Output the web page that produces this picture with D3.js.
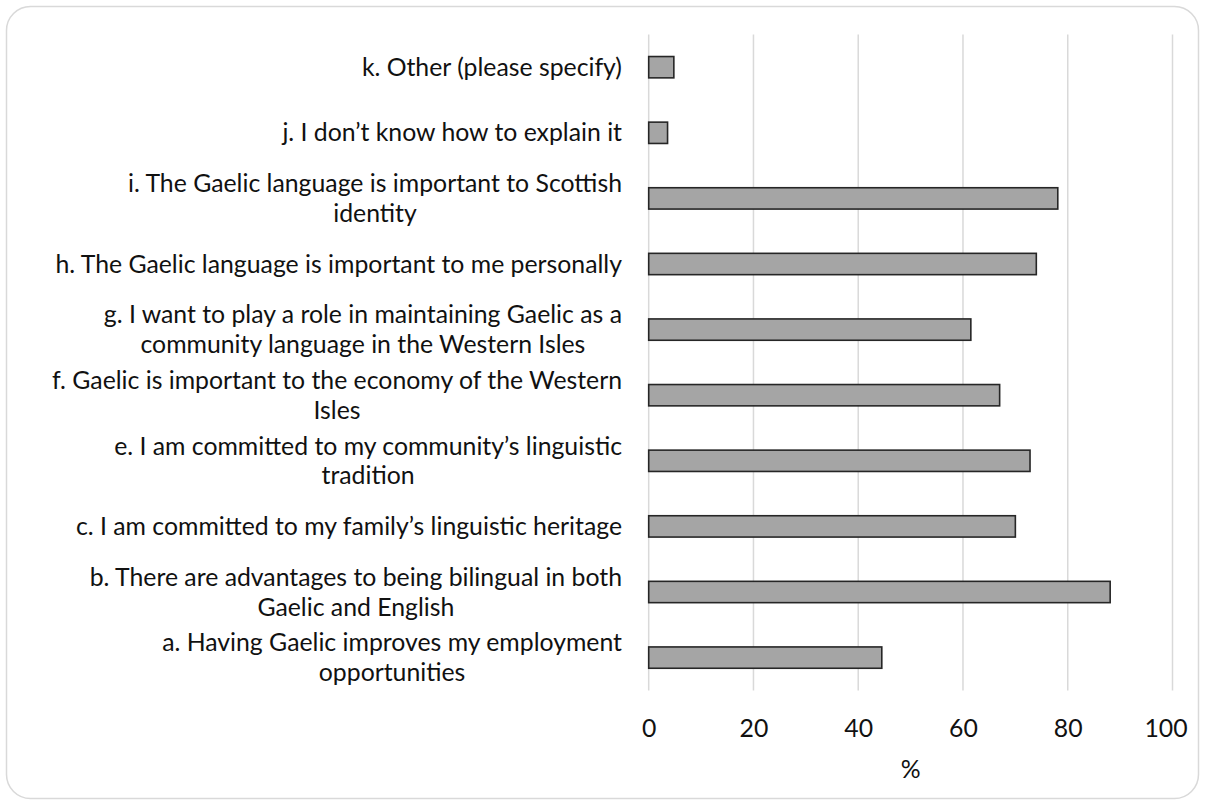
<!DOCTYPE html>
<html>
<head>
<meta charset="utf-8">
<script src="https://cdn.jsdelivr.net/npm/d3@7"></script>
<style>
  html, body { margin: 0; padding: 0; background: #fff; }
  svg { display: block; }
  text { font-family: Lato, "Open Sans", sans-serif; fill: #111; }
</style>
</head>
<body>
<svg id="chart" width="1205" height="805"></svg>
<script>
// Reasons for supporting Gaelic, % of respondents (top to bottom)
const categories = [
  "k. Other (please specify)",
  "j. I don\u2019t know how to explain it",
  "i. The Gaelic language is important to Scottish\nidentity",
  "h. The Gaelic language is important to me personally",
  "g. I want to play a role in maintaining Gaelic as a\ncommunity language in the Western Isles",
  "f. Gaelic is important to the economy of the Western\nIsles",
  "e. I am committed to my community\u2019s linguistic\ntradition",
  "c. I am committed to my family\u2019s linguistic heritage",
  "b. There are advantages to being bilingual in both\nGaelic and English",
  "a. Having Gaelic improves my employment\nopportunities"
];
const values = [4.8, 3.6, 78.1, 74.0, 61.5, 67.0, 72.8, 70.0, 88.1, 44.5];
const xTicks = [0, 20, 40, 60, 80, 100];
const xTitle = "%";

const svg = d3.select("#chart");
const FONT = 24.8;

// outer chart frame
svg.append("rect")
  .attr("x", 6.5).attr("y", 6.5)
  .attr("width", 1192).attr("height", 792)
  .attr("rx", 24).attr("ry", 24)
  .attr("fill", "#fff")
  .attr("stroke", "#d9d9d9")
  .attr("stroke-width", 1.5);

const x = d3.scaleLinear().domain([0, 100]).range([648.7, 1172.5]);
const y = d3.scaleBand()
  .domain(categories)
  .range([34.4, 690.4])
  .paddingInner(0.675)
  .paddingOuter(0.3375);

// vertical gridlines
svg.append("g")
  .selectAll("line")
  .data(xTicks)
  .join("line")
  .attr("x1", d => x(d)).attr("x2", d => x(d))
  .attr("y1", y.range()[0]).attr("y2", y.range()[1])
  .attr("stroke", "#d9d9d9")
  .attr("stroke-width", 1.5);

// bars
svg.append("g")
  .selectAll("rect")
  .data(values)
  .join("rect")
  .attr("x", x(0))
  .attr("y", (d, i) => y(categories[i]))
  .attr("width", d => x(d) - x(0))
  .attr("height", y.bandwidth())
  .attr("fill", "#a5a5a5")
  .attr("stroke", "#262626")
  .attr("stroke-width", 1.6);

// x tick labels
const xAxis = d3.axisBottom(x).tickValues(xTicks).tickSize(0).tickPadding(0);
const gx = svg.append("g")
  .attr("transform", `translate(0, 728)`)
  .call(xAxis);
gx.select(".domain").remove();
gx.selectAll("text")
  .attr("dy", "0.35em")
  .attr("y", 0)
  .style("font-size", FONT + "px")
  .style("font-family", "Lato, 'Open Sans', sans-serif")
  .attr("fill", "#111");
// the last tick label is pulled inside the plot edge
gx.selectAll(".tick").filter(d => d === 100).select("text").attr("x", -7);

// x axis title
svg.append("text")
  .attr("x", (x(0) + x(100)) / 2)
  .attr("y", 769)
  .attr("dy", "0.35em")
  .attr("text-anchor", "middle")
  .style("font-size", FONT + "px")
  .text(xTitle);

// category labels: lines centred on each other, block right-aligned
const labelRight = 622;
const lineH = FONT * 1.2;
const gl = svg.append("g");
categories.forEach(cat => {
  const lines = cat.split("\n");
  const cy = y(cat) + y.bandwidth() / 2;
  const t = gl.append("text")
    .attr("text-anchor", "middle")
    .style("font-size", FONT + "px");
  lines.forEach((ln, i) => {
    t.append("tspan")
      .attr("y", cy + (i - (lines.length - 1) / 2) * lineH)
      .attr("dy", "0.35em")
      .text(ln);
  });
  // measure widest line to centre the block against the right edge
  let maxW = 0;
  t.selectAll("tspan").each(function () {
    maxW = Math.max(maxW, this.getComputedTextLength());
  });
  t.selectAll("tspan").attr("x", labelRight - maxW / 2);
});
</script>
</body>
</html>
